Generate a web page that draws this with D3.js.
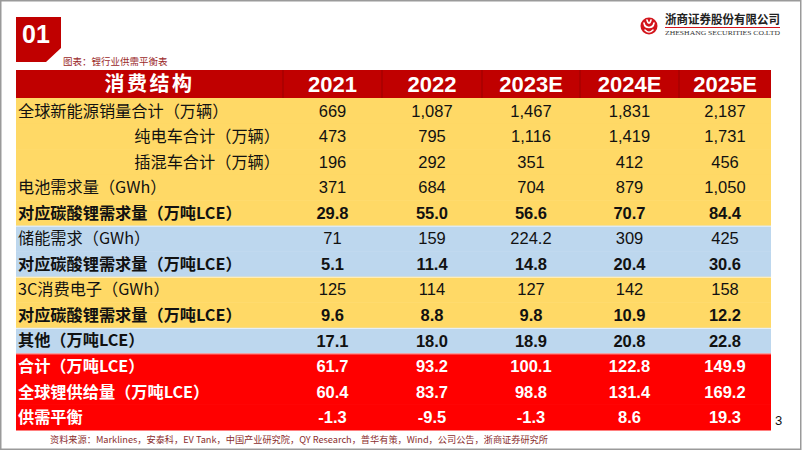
<!DOCTYPE html>
<html>
<head>
<meta charset="utf-8">
<script src="https://cdn.jsdelivr.net/npm/d3@7/dist/d3.min.js"></script>
<style>
  html, body {margin: 0; padding: 0; background: #fff;}
  svg {display: block;}
</style>
</head>
<body>
<svg id="chart" width="802" height="451"></svg>
<script>
// ---- data ----
const years = ['2021', '2022', '2023E', '2024E', '2025E'];

const rowLabels = [
  '全球新能源销量合计（万辆）',
  '纯电车合计（万辆）',
  '插混车合计（万辆）',
  '电池需求量（GWh）',
  '对应碳酸锂需求量（万吨LCE）',
  '储能需求（GWh）',
  '对应碳酸锂需求量（万吨LCE）',
  '3C消费电子（GWh）',
  '对应碳酸锂需求量（万吨LCE）',
  '其他（万吨LCE）',
  '合计（万吨LCE）',
  '全球锂供给量（万吨LCE）',
  '供需平衡',
];

const rowValues = [
  [669, 1087, 1467, 1831, 2187],
  [473, 795, 1116, 1419, 1731],
  [196, 292, 351, 412, 456],
  [371, 684, 704, 879, 1050],
  [29.8, 55.0, 56.6, 70.7, 84.4],
  [71, 159, 224.2, 309, 425],
  [5.1, 11.4, 14.8, 20.4, 30.6],
  [125, 114, 127, 142, 158],
  [9.6, 8.8, 9.8, 10.9, 12.2],
  [17.1, 18.0, 18.9, 20.8, 22.8],
  [61.7, 93.2, 100.1, 122.8, 149.9],
  [60.4, 83.7, 98.8, 131.4, 169.2],
  [-1.3, -9.5, -1.3, 8.6, 19.3],
];

// row group: y = yellow, b = blue, r = red total rows
const rowGroup = ['y', 'y', 'y', 'y', 'y', 'b', 'b', 'y', 'y', 'b', 'r', 'r', 'r'];
const rowBold = [0, 0, 0, 0, 1, 0, 1, 0, 1, 1, 1, 1, 1];
const rowIndent = [0, 1, 1, 0, 0, 0, 0, 0, 0, 0, 0, 0, 0];
// 0 = integer with thousands, 1 = one decimal
const rowFormat = [0, 0, 0, 0, 1, 0, 1, 0, 1, 1, 1, 1, 1];

const headerLabel = '消费结构';
const captionText = '图表：锂行业供需平衡表';
const sourceText = '资料来源：Marklines，安泰科，EV Tank，中国产业研究院，QY Research，普华有策，Wind，公司公告，浙商证券研究所';

// ---- styling ----
const fills = {y: '#FFD966', b: '#BDD7EE', r: '#FF0000'};
const darkRed = '#C00000';
const cjk = '"Noto Sans CJK SC", "Noto Sans", sans-serif';
const latin = '"Liberation Sans", Arial, sans-serif';

const locale = d3.formatLocale({
  decimal: '.', thousands: ',', grouping: [3], currency: ['', ''], minus: '-',
});
const formats = [locale.format(','), locale.format('.1f')];

const svg = d3.select('#chart');

// table geometry (column edges measured from the slide, not quite even)
const tableLeft = 16;
const tableRight = 771;
const labelRight = 283;
const colEdges = [283, 382, 482, 580, 679, 771];
const headTop = 70;
const headBottom = 98;
const tableBottom = 430;

const colStart = d3.scaleOrdinal()
    .domain(years)
    .range(colEdges.slice(0, -1));
const colEnd = d3.scaleOrdinal()
    .domain(years)
    .range(colEdges.slice(1));
const colMid = (yr) => (colStart(yr) + colEnd(yr)) / 2;

const y = d3.scaleBand()
    .domain(d3.range(rowLabels.length))
    .range([headBottom, tableBottom]);

// ---- header row ----
const head = svg.append('g');
head.append('rect')
    .attr('x', tableLeft)
    .attr('y', headTop)
    .attr('width', tableRight - tableLeft)
    .attr('height', headBottom - headTop)
    .attr('fill', darkRed);

head.selectAll('line')
    .data(years)
    .join('line')
    .attr('x1', (d) => colStart(d))
    .attr('x2', (d) => colStart(d))
    .attr('y1', headTop)
    .attr('y2', headBottom)
    .attr('stroke', '#9a0000')
    .attr('stroke-width', 1);

head.append('text')
    .attr('x', (tableLeft + labelRight) / 2)
    .attr('y', (headTop + headBottom) / 2)
    .attr('dy', '0.36em')
    .attr('text-anchor', 'middle')
    .attr('fill', '#fff')
    .attr('font-family', cjk)
    .attr('font-weight', 700)
    .attr('font-size', 20)
    .attr('letter-spacing', 2.5)
    .text(headerLabel);

head.selectAll('text.year')
    .data(years)
    .join('text')
    .attr('class', 'year')
    .attr('x', (d) => colMid(d))
    .attr('y', (headTop + headBottom) / 2)
    .attr('dy', '0.36em')
    .attr('text-anchor', 'middle')
    .attr('fill', '#fff')
    .attr('font-family', latin)
    .attr('font-weight', 700)
    .attr('font-size', 22)
    .text((d) => d);

// ---- body rows ----
const rows = svg.append('g')
    .selectAll('g')
    .data(rowLabels.map((label, i) => ({label, i})))
    .join('g')
    .attr('transform', (d) => `translate(0,${y(d.i)})`);

rows.append('rect')
    .attr('x', tableLeft)
    .attr('width', tableRight - tableLeft)
    .attr('height', y.bandwidth() + 0.5)
    .attr('fill', (d) => fills[rowGroup[d.i]]);

// thin light seam where the row colour changes
rows.filter((d) => d.i > 0 && rowGroup[d.i] !== rowGroup[d.i - 1])
    .append('line')
    .attr('x1', tableLeft)
    .attr('x2', tableRight)
    .attr('y1', 0.5)
    .attr('y2', 0.5)
    .attr('stroke', '#fff')
    .attr('stroke-opacity', 0.7);

rows.append('text')
    .attr('x', (d) => rowIndent[d.i] ? 280 : tableLeft + 2)
    .attr('y', y.bandwidth() / 2)
    .attr('dy', '0.36em')
    .attr('text-anchor', (d) => rowIndent[d.i] ? 'end' : 'start')
    .attr('fill', (d) => rowGroup[d.i] === 'r' ? '#fff' : '#111')
    .attr('font-family', cjk)
    .attr('font-weight', (d) => rowBold[d.i] ? 700 : 400)
    .attr('font-size', 16.2)
    .text((d) => d.label);

rows.selectAll('text.val')
    .data((d) => rowValues[d.i].map((v, j) => ({v, year: years[j], row: d.i})))
    .join('text')
    .attr('class', 'val')
    .attr('x', (d) => colMid(d.year))
    .attr('y', y.bandwidth() / 2)
    .attr('dy', '0.36em')
    .attr('text-anchor', 'middle')
    .attr('fill', (d) => rowGroup[d.row] === 'r' ? '#fff' : '#111')
    .attr('font-family', latin)
    .attr('font-weight', (d) => rowBold[d.row] ? 700 : 400)
    .attr('font-size', 16.5)
    .text((d) => formats[rowFormat[d.row]](d.v));

// ---- slide furniture ----
// section badge "01" with the clipped corner
svg.append('path')
    .attr('d', 'M16,17H61V48L46,62H16Z')
    .attr('fill', darkRed);
svg.append('text')
    .attr('x', 22)
    .attr('y', 43)
    .attr('fill', '#fff')
    .attr('font-family', latin)
    .attr('font-weight', 700)
    .attr('font-size', 25)
    .text('01');

svg.append('text')
    .attr('x', 63)
    .attr('y', 65)
    .attr('fill', '#9b2a2a')
    .attr('font-family', cjk)
    .attr('font-size', 9.5)
    .text(captionText);

// company logo
const logo = svg.append('g').attr('transform', 'translate(649,26)');
logo.append('circle')
    .attr('r', 8.5)
    .attr('fill', '#d3141b');
logo.append('path')
    .attr('d', 'M-5,-3C-4,3 4,3 5,-3M-2,-6C-1,-2 1,-2 2,-6M-4,4C-1,7 1,7 4,4')
    .attr('fill', 'none')
    .attr('stroke', '#fff')
    .attr('stroke-width', 1.6)
    .attr('stroke-linecap', 'round');

svg.append('text')
    .attr('x', 665)
    .attr('y', 24)
    .attr('fill', '#222')
    .attr('font-family', cjk)
    .attr('font-weight', 700)
    .attr('font-size', 12)
    .attr('textLength', 115)
    .attr('lengthAdjust', 'spacingAndGlyphs')
    .text('浙商证券股份有限公司');
svg.append('line')
    .attr('x1', 665)
    .attr('x2', 780)
    .attr('y1', 27.5)
    .attr('y2', 27.5)
    .attr('stroke', '#d3141b')
    .attr('stroke-width', 1);
svg.append('text')
    .attr('x', 665)
    .attr('y', 35)
    .attr('fill', '#333')
    .attr('font-family', '"Liberation Serif", "DejaVu Serif", serif')
    .attr('font-size', 7)
    .attr('textLength', 115)
    .attr('lengthAdjust', 'spacingAndGlyphs')
    .text('ZHESHANG SECURITIES CO.LTD');

// source line and page number
svg.append('text')
    .attr('x', 50)
    .attr('y', 443)
    .attr('fill', '#8b2e2e')
    .attr('font-family', cjk)
    .attr('font-size', 9)
    .attr('textLength', 498)
    .attr('lengthAdjust', 'spacingAndGlyphs')
    .text(sourceText);

svg.append('text')
    .attr('x', 775)
    .attr('y', 425)
    .attr('fill', '#111')
    .attr('font-family', latin)
    .attr('font-size', 13)
    .text('3');

// grey slide frame
svg.append('rect')
    .attr('x', 0.75)
    .attr('y', 0.75)
    .attr('width', 800)
    .attr('height', 448.5)
    .attr('fill', 'none')
    .attr('stroke', '#9a9a9a')
    .attr('stroke-width', 1.5);
</script>
</body>
</html>
